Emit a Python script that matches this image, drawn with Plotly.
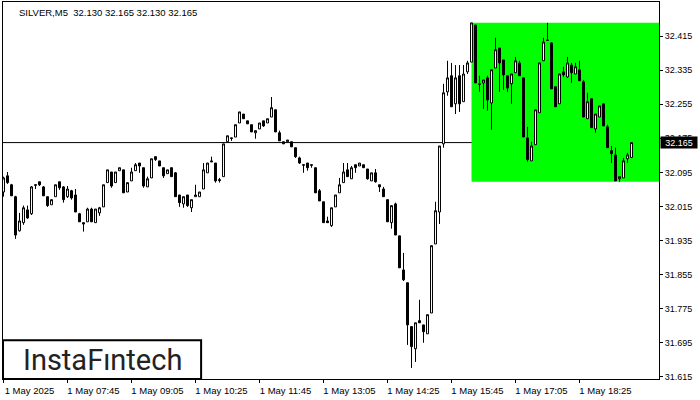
import pandas as pd
import plotly.graph_objects as go

chart_title = "SILVER,M5  32.130 32.165 32.130 32.165"
first_bar_time = "2025-05-01 06:25"

open_ = [
    32.049, 32.087, 32.066, 32.038, 31.958, 31.977, 32.007, 31.998, 32.066, 32.073,
    32.061, 32.038, 32.019, 32.038, 32.073, 32.061, 32.038, 32.052, 32.042, 31.998,
    31.977, 31.979, 32.009, 31.977, 32.000, 32.014, 32.071, 32.096, 32.071, 32.099,
    32.101, 32.049, 32.075, 32.099, 32.117, 32.106, 32.061, 32.082, 32.132, 32.122,
    32.106, 32.092, 32.106, 32.094, 32.042, 32.021, 32.042, 32.012, 32.038, 32.038,
    32.056, 32.094, 32.122, 32.117, 32.078, 32.085, 32.167, 32.176, 32.178, 32.211,
    32.232, 32.216, 32.207, 32.188, 32.197, 32.216, 32.211, 32.225, 32.242, 32.188,
    32.167, 32.167, 32.167, 32.153, 32.129, 32.113, 32.117, 32.113, 32.106, 32.052,
    32.026, 31.981, 31.970, 32.014, 32.047, 32.071, 32.101, 32.080, 32.113, 32.110,
    32.113, 32.103, 32.075, 32.094, 32.066, 32.056, 32.031, 31.977, 32.021, 31.946,
    31.866, 31.836, 31.733, 31.681, 31.747, 31.737, 31.716, 31.765, 31.927, 32.002,
    32.162, 32.284, 32.322, 32.256, 32.322, 32.261, 32.331, 32.354, 32.441, 32.303,
    32.305, 32.317, 32.258, 32.340, 32.387, 32.359, 32.322, 32.303, 32.329, 32.352,
    32.317, 32.176, 32.122, 32.160, 32.235, 32.357, 32.406, 32.399, 32.296, 32.256,
    32.331, 32.319, 32.347, 32.326, 32.336, 32.308, 32.221, 32.268, 32.197, 32.225,
    32.256, 32.202, 32.146, 32.136, 32.080, 32.082, 32.127, 32.130,
]
high = [
    32.085, 32.096, 32.068, 32.040, 32.000, 32.017, 32.017, 32.063, 32.066, 32.073,
    32.063, 32.038, 32.031, 32.066, 32.073, 32.063, 32.063, 32.054, 32.056, 32.000,
    31.977, 32.012, 32.012, 32.009, 32.014, 32.066, 32.101, 32.096, 32.096, 32.106,
    32.101, 32.071, 32.106, 32.117, 32.117, 32.106, 32.085, 32.127, 32.132, 32.122,
    32.106, 32.101, 32.106, 32.096, 32.042, 32.038, 32.042, 32.031, 32.066, 32.049,
    32.117, 32.117, 32.132, 32.117, 32.082, 32.162, 32.181, 32.176, 32.207, 32.237,
    32.232, 32.216, 32.207, 32.193, 32.211, 32.216, 32.221, 32.272, 32.242, 32.193,
    32.167, 32.171, 32.167, 32.153, 32.132, 32.113, 32.117, 32.113, 32.106, 32.056,
    32.026, 31.991, 32.012, 32.042, 32.082, 32.117, 32.117, 32.110, 32.113, 32.117,
    32.113, 32.103, 32.094, 32.103, 32.066, 32.061, 32.031, 32.017, 32.024, 31.946,
    31.906, 31.836, 31.733, 31.742, 31.796, 31.737, 31.761, 31.923, 32.026, 32.157,
    32.303, 32.357, 32.352, 32.347, 32.347, 32.347, 32.357, 32.446, 32.441, 32.322,
    32.312, 32.322, 32.336, 32.411, 32.387, 32.359, 32.322, 32.326, 32.366, 32.357,
    32.317, 32.202, 32.167, 32.242, 32.352, 32.411, 32.446, 32.401, 32.296, 32.326,
    32.343, 32.366, 32.352, 32.352, 32.357, 32.312, 32.282, 32.268, 32.232, 32.251,
    32.256, 32.207, 32.157, 32.153, 32.085, 32.129, 32.141, 32.165,
]
low = [
    32.038, 32.068, 32.040, 31.939, 31.956, 31.972, 31.986, 31.995, 32.056, 32.063,
    32.040, 32.014, 32.019, 32.038, 32.054, 32.024, 32.035, 32.031, 32.002, 31.979,
    31.956, 31.979, 31.979, 31.977, 31.993, 32.014, 32.071, 32.059, 32.071, 32.099,
    32.047, 32.049, 32.075, 32.099, 32.094, 32.059, 32.061, 32.082, 32.122, 32.110,
    32.082, 32.092, 32.085, 32.038, 32.014, 32.012, 32.014, 32.002, 32.038, 32.038,
    32.056, 32.094, 32.120, 32.071, 32.071, 32.085, 32.167, 32.169, 32.178, 32.211,
    32.221, 32.209, 32.190, 32.174, 32.197, 32.202, 32.211, 32.225, 32.190, 32.169,
    32.162, 32.167, 32.155, 32.129, 32.115, 32.094, 32.099, 32.106, 32.047, 32.028,
    31.977, 31.977, 31.967, 32.014, 32.047, 32.071, 32.085, 32.080, 32.094, 32.110,
    32.106, 32.078, 32.075, 32.071, 32.049, 32.038, 31.979, 31.963, 31.948, 31.871,
    31.840, 31.690, 31.636, 31.650, 31.742, 31.695, 31.716, 31.765, 31.927, 31.974,
    32.153, 32.275, 32.249, 32.232, 32.237, 32.261, 32.326, 32.354, 32.305, 32.284,
    32.244, 32.240, 32.195, 32.340, 32.284, 32.289, 32.284, 32.256, 32.329, 32.322,
    32.178, 32.120, 32.122, 32.160, 32.235, 32.357, 32.404, 32.291, 32.249, 32.256,
    32.319, 32.317, 32.305, 32.326, 32.310, 32.225, 32.221, 32.200, 32.188, 32.225,
    32.204, 32.153, 32.117, 32.075, 32.073, 32.082, 32.117, 32.130,
]
close = [
    32.082, 32.071, 32.040, 31.948, 31.981, 32.012, 31.988, 32.061, 32.065, 32.066,
    32.040, 32.017, 32.031, 32.066, 32.059, 32.031, 32.056, 32.035, 32.002, 31.979,
    31.974, 32.009, 31.979, 32.009, 32.012, 32.066, 32.101, 32.063, 32.096, 32.106,
    32.047, 32.071, 32.096, 32.113, 32.110, 32.063, 32.080, 32.127, 32.125, 32.110,
    32.087, 32.101, 32.085, 32.038, 32.024, 32.038, 32.017, 32.031, 32.042, 32.049,
    32.101, 32.117, 32.120, 32.075, 32.076, 32.162, 32.181, 32.175, 32.207, 32.237,
    32.221, 32.209, 32.190, 32.193, 32.211, 32.204, 32.221, 32.247, 32.190, 32.169,
    32.162, 32.171, 32.155, 32.132, 32.117, 32.112, 32.106, 32.112, 32.047, 32.028,
    31.977, 31.977, 32.012, 32.042, 32.066, 32.096, 32.085, 32.106, 32.106, 32.117,
    32.106, 32.080, 32.094, 32.073, 32.061, 32.038, 31.979, 32.017, 31.948, 31.871,
    31.843, 31.737, 31.686, 31.742, 31.742, 31.721, 31.761, 31.923, 32.005, 32.157,
    32.282, 32.317, 32.249, 32.317, 32.256, 32.326, 32.352, 32.446, 32.305, 32.302,
    32.312, 32.265, 32.336, 32.383, 32.352, 32.324, 32.293, 32.326, 32.357, 32.322,
    32.178, 32.125, 32.157, 32.242, 32.352, 32.401, 32.405, 32.291, 32.249, 32.326,
    32.324, 32.352, 32.329, 32.343, 32.310, 32.225, 32.261, 32.200, 32.232, 32.251,
    32.204, 32.153, 32.139, 32.075, 32.085, 32.122, 32.136, 32.165,
]

tick_times = ["2025-05-01 06:25", "2025-05-01 07:45", "2025-05-01 09:05", "2025-05-01 10:25",
              "2025-05-01 11:45", "2025-05-01 13:05", "2025-05-01 14:25", "2025-05-01 15:45",
              "2025-05-01 17:05", "2025-05-01 18:25"]
tick_labels = ["1 May 2025", "1 May 07:45", "1 May 09:05", "1 May 10:25", "1 May 11:45",
               "1 May 13:05", "1 May 14:25", "1 May 15:45", "1 May 17:05", "1 May 18:25"]
price_ticks = [31.615, 31.695, 31.775, 31.855, 31.935, 32.015, 32.095, 32.175, 32.255, 32.335, 32.415]
price_tick_labels = ["31.615", "31.695", "31.775", "31.855", "31.935", "32.015", "32.095",
                     "32.175", "32.255", "32.335", "32.415"]
last_price = 32.165
pattern_start = "2025-05-01 16:10"
pattern_top = 32.446
pattern_bottom = 32.073
x_range = ["2025-05-01 06:24:22", "2025-05-01 20:04:22"]
y_range = [31.610, 32.495]

times = pd.date_range(first_bar_time, periods=len(close), freq="5min")

FONT = "Liberation Sans, Arial, sans-serif"

fig = go.Figure(go.Candlestick(
    x=times, open=open_, high=high, low=low, close=close,
    increasing=dict(line=dict(color="black", width=1), fillcolor="white"),
    decreasing=dict(line=dict(color="black", width=1), fillcolor="black"),
    whiskerwidth=0, showlegend=False, hoverinfo="skip",
))

fig.update_layout(
    width=700, height=400,
    margin=dict(l=3, r=41, t=2, b=21),
    paper_bgcolor="white", plot_bgcolor="white",
    font=dict(family=FONT, size=9, color="black"),
    xaxis=dict(
        type="date", range=x_range, rangeslider=dict(visible=False),
        tickvals=tick_times, ticktext=tick_labels, ticks="outside", ticklen=3,
        tickcolor="black", ticklabelshift=26, tickfont=dict(family=FONT, size=9.5, color="black"),
        showgrid=False, zeroline=False, showline=True, mirror=True,
        linecolor="black", linewidth=1,
    ),
    yaxis=dict(
        side="right", range=y_range, tickvals=price_ticks, ticktext=price_tick_labels,
        ticks="outside", ticklen=3, tickcolor="black",
        tickfont=dict(family=FONT, size=9, color="black"),
        showgrid=False, zeroline=False, showline=True, mirror=True,
        linecolor="black", linewidth=1,
    ),
    shapes=[
        dict(type="rect", xref="x", yref="y", x0=pattern_start, x1=x_range[1],
             y0=pattern_bottom, y1=pattern_top, fillcolor="#00ff00",
             line=dict(width=0), layer="below"),
        dict(type="line", xref="paper", yref="y", x0=0, x1=1, y0=last_price, y1=last_price,
             line=dict(color="black", width=1), layer="below"),
        dict(type="rect", xref="paper", yref="paper", x0=0, x1=0.302, y0=0, y1=0.103,
             fillcolor="white", line=dict(color="black", width=2), layer="above"),
    ],
    annotations=[
        dict(text=chart_title, xref="paper", yref="paper", x=0, y=1, xanchor="left",
             yanchor="top", xshift=14, yshift=-3, showarrow=False,
             font=dict(family=FONT, size=9.5, color="black")),
        dict(text="InstaFıntech", xref="paper", yref="paper", x=0.151, y=0.0515,
             xanchor="center", yanchor="middle", showarrow=False,
             font=dict(family="Roboto, sans-serif", size=29, color="#222222")),
        dict(text=f"{last_price:.3f}", xref="paper", yref="y", x=1, y=last_price,
             xanchor="left", yanchor="middle", xshift=1, showarrow=False,
             bgcolor="black", width=36, height=11, borderpad=0,
             font=dict(family=FONT, size=9, color="white")),
    ],
)

fig.write_html("out.html", config={"displayModeBar": False},
               post_script="document.body.style.margin='0px';")
